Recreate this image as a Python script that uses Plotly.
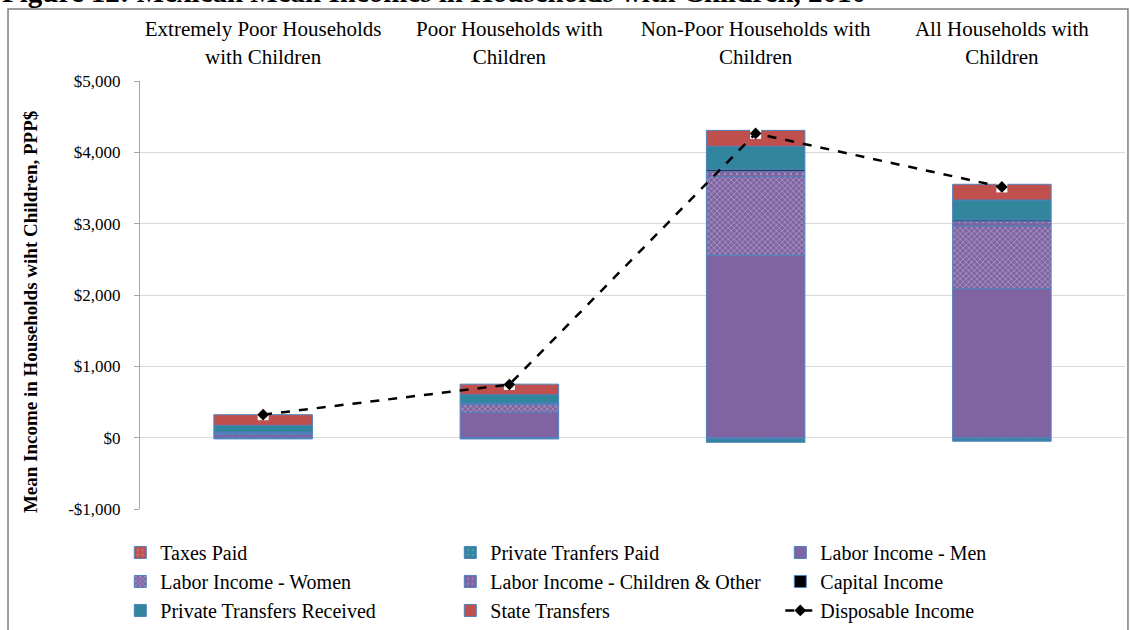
import plotly.graph_objects as go

# Household groups (drawn as top category labels)
categories = [
    "Extremely Poor Households<br>with Children",
    "Poor Households with<br>Children",
    "Non-Poor Households with<br>Children",
    "All Households with<br>Children",
]

# Mean income components, PPP$ per household
taxes_paid = [-5, -8, -15, -12]
private_transfers_paid = [-12, -10, -50, -38]
labor_men = [45, 355, 2556, 2090]
labor_women = [20, 110, 1106, 877]
labor_children_other = [12, 15, 75, 65]
capital_income = [2, 5, 25, 20]
private_transfers_received = [93, 117, 322, 280]
state_transfers = [150, 148, 224, 220]
disposable_income = [322, 745, 4265, 3515]

y_ticks = [-1000, 0, 1000, 2000, 3000, 4000, 5000]
y_tick_text = ["-$1,000", "$0", "$1,000", "$2,000", "$3,000", "$4,000", "$5,000"]

RED = "#C0504D"
TEAL = "#31859C"
PURPLE = "#8064A2"
OUTLINE = "#4F81BD"
FONT = "Liberation Serif"

fig = go.Figure()


def add_bar(name, values, color, pattern=None):
    marker = dict(color=color, line=dict(color=OUTLINE, width=1))
    if pattern is not None:
        marker["pattern"] = pattern
    fig.add_trace(go.Bar(x=categories, y=values, name=name, marker=marker, width=0.4))


dots = dict(shape=".", fgcolor="rgba(255,255,255,0.6)", size=6, solidity=0.12)
add_bar("Taxes Paid", taxes_paid, RED, dict(dots, bgcolor=RED))
add_bar("Private Tranfers Paid", private_transfers_paid, TEAL, dict(dots, bgcolor=TEAL))
add_bar("Labor Income - Men", labor_men, PURPLE)
add_bar("Labor Income - Women", labor_women, PURPLE,
        dict(shape="x", fgcolor="#D9D2E9", bgcolor=PURPLE, size=4, solidity=0.35))
add_bar("Labor Income - Children & Other", labor_children_other, PURPLE, dict(dots, bgcolor=PURPLE))
add_bar("Capital Income", capital_income, "#000000")
add_bar("Private Transfers Received", private_transfers_received, TEAL)
add_bar("State Transfers", state_transfers, RED)

# white backing square under each disposable-income point
fig.add_trace(go.Scatter(
    x=categories, y=disposable_income, mode="markers", showlegend=False,
    hoverinfo="skip", marker=dict(symbol="square", size=11, color="white"),
))
fig.add_trace(go.Scatter(
    x=categories, y=disposable_income, name="Disposable Income", mode="lines+markers",
    line=dict(color="black", width=2.5, dash="dash"),
    marker=dict(symbol="diamond", size=9, color="black"),
))

fig.update_layout(
    width=1130, height=630,
    margin=dict(l=140, r=5, t=81, b=121, autoexpand=False),
    paper_bgcolor="white", plot_bgcolor="white",
    barmode="relative",
    font=dict(family=FONT, color="black", size=17),
    xaxis=dict(
        side="top", type="category",
        showgrid=False, showline=False, zeroline=False,
        ticks="outside", ticklen=8, tickcolor="rgba(0,0,0,0)",
        tickfont=dict(size=21, family=FONT),
        range=[-0.5, 3.5],
    ),
    xaxis2=dict(
        overlaying="x", anchor="free", position=1 / 6,
        range=[-0.5, 3.5], showgrid=False, zeroline=False,
        showline=True, linecolor="#A6A6A6", linewidth=2,
        tickvals=[0.5, 1.5, 2.5], ticks="outside", ticklen=6,
        tickcolor="#A6A6A6", showticklabels=False,
    ),
    yaxis=dict(
        range=[-1000, 5000], tickvals=y_ticks, ticktext=y_tick_text,
        showgrid=True, gridcolor="#D9D9D9", gridwidth=1,
        zeroline=False, showline=True, linecolor="#A6A6A6", linewidth=1,
        ticks="outside", ticklen=5, tickcolor="#A6A6A6",
        tickfont=dict(size=17, family=FONT), ticklabelstandoff=10,
    ),
    legend=dict(
        orientation="h", x=-0.02, xanchor="left", y=-0.056, yanchor="top",
        entrywidth=285, entrywidthmode="pixels", traceorder="normal",
        font=dict(size=20, family=FONT), bgcolor="rgba(0,0,0,0)",
    ),
    showlegend=True,
)

# vertical axis title
fig.add_annotation(
    text="<b>Mean Income in Households wiht Children, PPP$</b>",
    xref="paper", yref="paper", x=-0.1117, y=0.46, xanchor="center", yanchor="middle",
    textangle=-90, showarrow=False, font=dict(size=19, family=FONT, color="black"),
)

# outer frame around the chart and the figure heading
fig.add_shape(type="rect", xref="paper", yref="paper",
              x0=-0.134, x1=1.003, y0=-0.4, y1=1.168,
              line=dict(color="#7F7F7F", width=1.5), fillcolor="rgba(0,0,0,0)", layer="below")
fig.add_annotation(
    text="<b>Figure 12: Mexican Mean Incomes in Households with Children, 2010</b>",
    xref="paper", yref="paper", x=-0.142, y=1.0, xanchor="left", yanchor="bottom",
    yshift=71, showarrow=False, font=dict(size=29, family=FONT, color="black"),
)

fig.write_html("out.html")
